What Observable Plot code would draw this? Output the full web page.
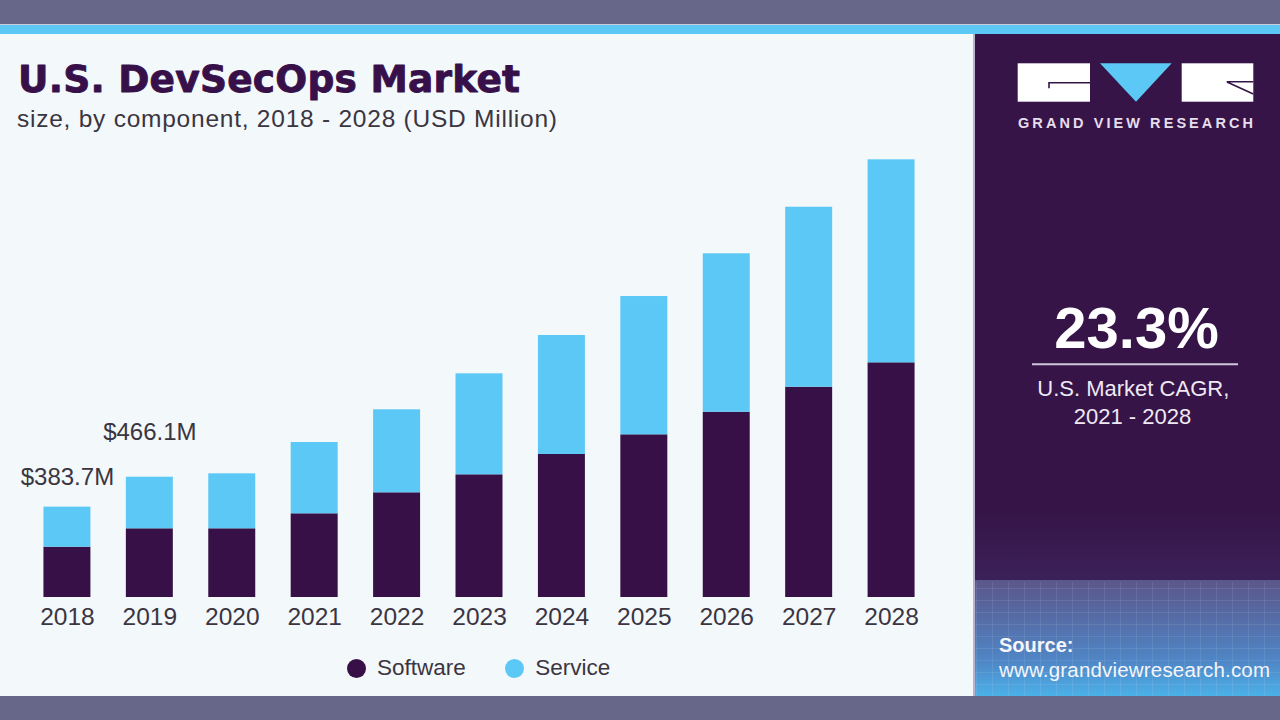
<!DOCTYPE html>
<html><head><meta charset="utf-8">
<script src="https://cdn.jsdelivr.net/npm/d3@7"></script>
<script src="https://cdn.jsdelivr.net/npm/@observablehq/plot@0.6"></script>
<style>
html,body{margin:0;padding:0}
body{width:1280px;height:720px;overflow:hidden;position:relative;background:#f3f8fb;font-family:"Liberation Sans",Arial,sans-serif}
.abs{position:absolute}
#legend{display:flex;align-items:center;gap:39px;font-size:22.5px;color:#3b3541}
#legend .item{display:flex;align-items:center;gap:11.5px}
#legend .sw{width:19px;height:19px;border-radius:50%}
</style></head><body>
<div class="abs" style="left:0;top:0;width:1280px;height:24px;background:#67678a"></div>
<div class="abs" style="left:0;top:24px;width:1280px;height:1px;background:#cdcedb"></div>
<div class="abs" style="left:0;top:25px;width:1280px;height:9px;background:#5bc8f5"></div>
<div class="abs" style="left:973px;top:34px;width:2px;height:662px;background:#b9b4cc"></div>
<div class="abs" style="left:975px;top:34px;width:305px;height:662px;background:#361447"></div>
<div class="abs" style="left:975px;top:510px;width:305px;height:70px;background:linear-gradient(#361447,#3b2159)"></div>
<div class="abs" style="left:975px;top:580px;width:305px;height:116px;background:linear-gradient(#5b568a,#4f86c6 70%,#4cb0e8)"></div>
<div class="abs" style="left:0;top:696px;width:1280px;height:24px;background:#67678a"></div>
<div id="chart" class="abs" style="left:0;top:126px"></div>
<div id="legend" class="abs" style="left:346.5px;top:655px;height:26px"></div>
<svg class="abs" width="1280" height="720" style="left:0;top:0;pointer-events:none">
  <defs>
    <pattern id="grid" width="16" height="12" patternUnits="userSpaceOnUse">
      <path d="M16 0 L0 0 0 12" fill="none" stroke="rgba(255,255,255,0.16)" stroke-width="1"/>
    </pattern>
  </defs>
  <rect x="975" y="582" width="305" height="114" fill="url(#grid)"/>
  <text x="18" y="91.7" font-family="DejaVu Sans" font-weight="bold" font-size="37.5" fill="#37104a" stroke="#37104a" stroke-width="0.9" stroke-linejoin="round" textLength="502" lengthAdjust="spacing">U.S. DevSecOps Market</text>
  <text x="17" y="126.7" font-family="Liberation Sans" font-size="24.5" fill="#3b3541" textLength="540" lengthAdjust="spacing">size, by component, 2018 - 2028 (USD Million)</text>
  <!-- logo -->
  <rect x="1017.7" y="63.3" width="72.3" height="38.4" fill="#ffffff"/>
  <path d="M1049 88.3 V82.7 H1090" fill="none" stroke="#361447" stroke-width="1.6"/>
  <polygon points="1100,63.3 1171.7,63.3 1136,101.7" fill="#5bc8f5"/>
  <rect x="1181.7" y="63.3" width="71.6" height="38.4" fill="#ffffff"/>
  <path d="M1226.7 81.7 H1253.3 M1227 82 L1253.3 94" fill="none" stroke="#361447" stroke-width="1.6"/>
  <text x="1018" y="128.3" font-family="Liberation Sans" font-weight="bold" font-size="14.5" fill="#e6deee" textLength="235" lengthAdjust="spacing">GRAND VIEW RESEARCH</text>
  <!-- CAGR -->
  <text x="1136.5" y="348" text-anchor="middle" font-family="Liberation Sans" font-weight="bold" font-size="58" fill="#ffffff">23.3%</text>
  <line x1="1032" x2="1238" y1="364.3" y2="364.3" stroke="#cfc6da" stroke-width="2"/>
  <text x="1133.3" y="395.7" text-anchor="middle" font-family="Liberation Sans" font-size="22" fill="#efe9f4">U.S. Market CAGR,</text>
  <text x="1132.5" y="424" text-anchor="middle" font-family="Liberation Sans" font-size="22" fill="#efe9f4">2021 - 2028</text>
  <!-- source -->
  <text x="999" y="651.7" font-family="Liberation Sans" font-weight="bold" font-size="20" fill="#f5f5fa">Source:</text>
  <text x="999" y="676.7" font-family="Liberation Sans" font-size="20.5" fill="#f5f5fa" textLength="271" lengthAdjust="spacing">www.grandviewresearch.com</text>
</svg>
<script>
const years = ["2018","2019","2020","2021","2022","2023","2024","2025","2026","2027","2028"];
const software = [213.6, 291.7, 291.7, 355.4, 444.6, 521.0, 607.2, 690.8, 786.8, 892.9, 996.5];
const service  = [170.1, 219.1, 233.5, 302.7, 352.4, 428.8, 505.3, 587.2, 672.6, 764.3, 862.0];
const components = ["Software", "Service"];
const colors = ["#361047", "#5bc8f5"];
const labelYears = ["2018", "2019"];
const labelTexts = ["$383.7M", "$466.1M"];

const data = years.flatMap((y, i) => [
  {year: y, component: components[0], value: software[i]},
  {year: y, component: components[1], value: service[i]}
]);
const totals = new Map(years.map((y, i) => [y, software[i] + service[i]]));
const labels = labelYears.map((y, j) => ({year: y, total: totals.get(y), text: labelTexts[j]}));

const chart = Plot.plot({
  width: 975,
  height: 514,
  marginLeft: 8,
  marginRight: 25,
  marginTop: 0,
  marginBottom: 43,
  style: {background: "transparent", fontFamily: '"Liberation Sans", Arial, sans-serif', fontSize: "24.5px", color: "#3b3541", overflow: "visible"},
  x: {domain: years, padding: 0.43, round: false, label: null, tickSize: 0, tickPadding: 10},
  y: {domain: [0, 2000], axis: null},
  color: {domain: components, range: colors},
  marks: [
    Plot.barY(data, {x: "year", y: "value", fill: "component"}),
    Plot.text([labels[0]], {x: "year", y: "total", text: "text", dy: -30, fontSize: 24, fill: "#3b3541"}),
    Plot.text([labels[1]], {x: "year", y: "total", text: "text", dy: -45, fontSize: 24, fill: "#3b3541"})
  ]
});
document.getElementById("chart").appendChild(chart);

const legend = d3.select("#legend");
components.forEach((c, i) => {
  const item = legend.append("div").attr("class", "item");
  item.append("div").attr("class", "sw").style("background", colors[i]);
  item.append("span").text(c);
});
</script>
</body></html>
